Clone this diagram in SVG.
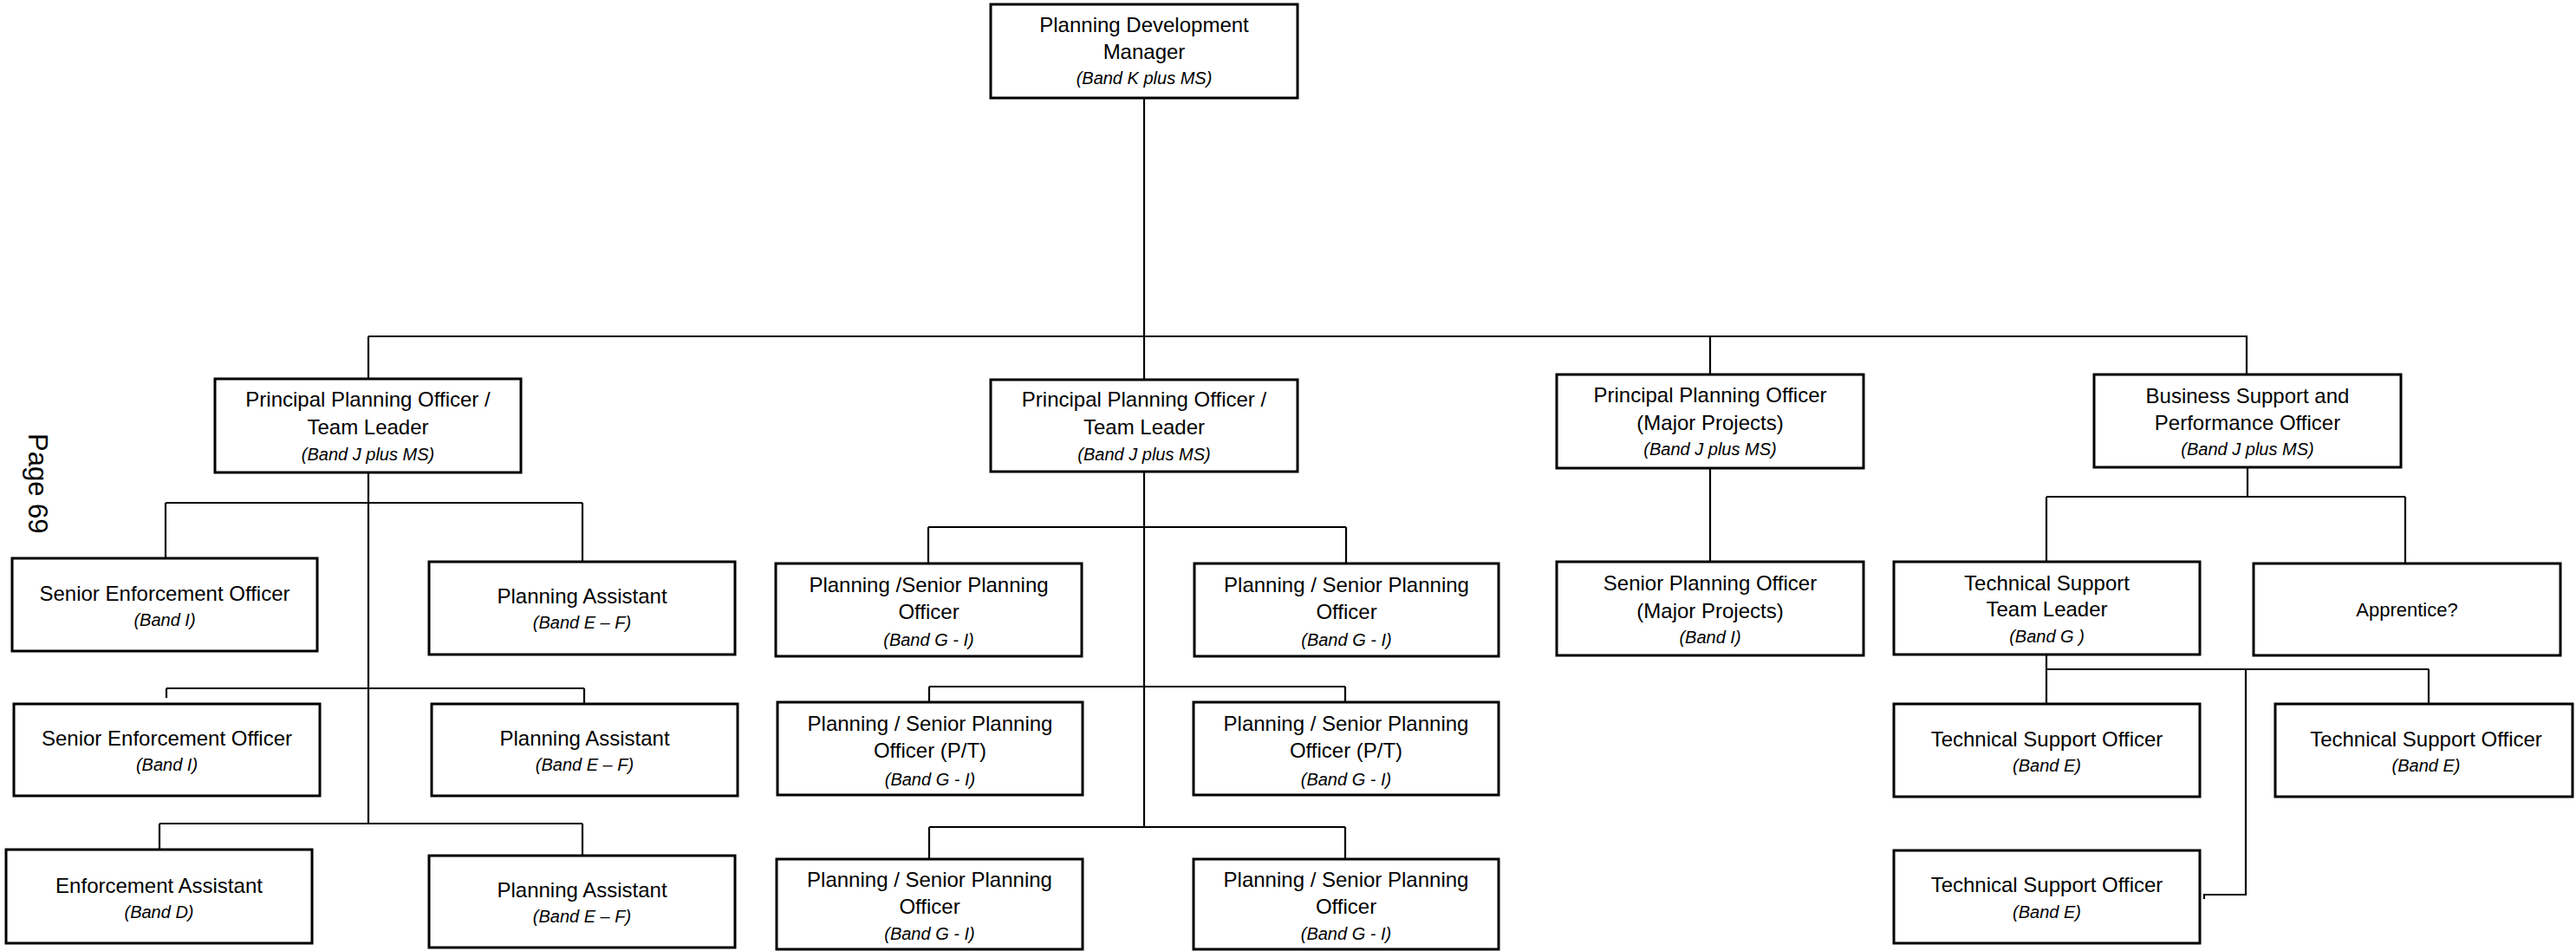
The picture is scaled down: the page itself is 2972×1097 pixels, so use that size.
<svg xmlns="http://www.w3.org/2000/svg" width="2972" height="1097" viewBox="0 0 2972 1097">
<style>
.bg{fill:#ffffff}
.box{fill:#ffffff;stroke:#000000;stroke-width:3}
.conn path{fill:none;stroke:#000000;stroke-width:2.2}
text{font-family:"Liberation Sans",Arial,sans-serif;fill:#000000;text-anchor:middle}
.t{font-size:24px}
.b{font-size:20px;font-style:italic}
.s{font-size:22px}
.pg{font-size:31px;text-anchor:start}
</style>
<rect class="bg" x="0" y="0" width="2972" height="1097"/>
<text class="pg" transform="translate(33,500) rotate(90)">Page 69</text>
<g id="connectors" class="conn">
<path d="M1320,113 V438"/>
<path d="M425,388 H2593"/>
<path d="M425,388 V437"/>
<path d="M1973,388 V432"/>
<path d="M2592,388 V432"/>
<path d="M425,545 V950"/>
<path d="M191,580 H672 M191,580 V644 M672,580 V648"/>
<path d="M192,794 H674 M192,794 V805 M674,794 V812"/>
<path d="M184,950 H672 M184,950 V980 M672,950 V987"/>
<path d="M1320,544 V954"/>
<path d="M1071,608 H1553 M1071,608 V650 M1553,608 V650"/>
<path d="M1072,792 H1552 M1072,792 V810 M1552,792 V810"/>
<path d="M1072,954 H1552 M1072,954 V991 M1552,954 V991"/>
<path d="M1973,540 V648"/>
<path d="M2593,539 V573 M2361,573 H2775 M2361,573 V648 M2775,573 V650"/>
<path d="M2361,755 V812 M2361,772 H2802 M2802,772 V812"/>
<path d="M2591,772 V1032 H2543 V1037"/>
</g>
<g id="n-pdm"><rect class="box" x="1143" y="5" width="354" height="108"/>
<text class="t" x="1320" y="37">Planning Development</text><text class="t" x="1320" y="68">Manager</text><text class="b" x="1320" y="97">(Band K plus MS)</text></g>
<g id="n-ppo1"><rect class="box" x="248" y="437" width="353" height="108"/>
<text class="t" x="424.5" y="469">Principal Planning Officer /</text><text class="t" x="424.5" y="501">Team Leader</text><text class="b" x="424.5" y="531">(Band J plus MS)</text></g>
<g id="n-ppo2"><rect class="box" x="1143" y="438" width="354" height="106"/>
<text class="t" x="1320" y="469">Principal Planning Officer /</text><text class="t" x="1320" y="501">Team Leader</text><text class="b" x="1320" y="531">(Band J plus MS)</text></g>
<g id="n-ppo3"><rect class="box" x="1796" y="432" width="354" height="108"/>
<text class="t" x="1973" y="464">Principal Planning Officer</text><text class="t" x="1973" y="496">(Major Projects)</text><text class="b" x="1973" y="525">(Band J plus MS)</text></g>
<g id="n-bspo"><rect class="box" x="2416" y="432" width="354" height="107"/>
<text class="t" x="2593" y="465">Business Support and</text><text class="t" x="2593" y="496">Performance Officer</text><text class="b" x="2593" y="525">(Band J plus MS)</text></g>
<g id="n-seo1"><rect class="box" x="14" y="644" width="352" height="107"/>
<text class="t" x="190" y="693">Senior Enforcement Officer</text><text class="b" x="190" y="722">(Band I)</text></g>
<g id="n-pa1"><rect class="box" x="495" y="648" width="353" height="107"/>
<text class="t" x="671.5" y="696">Planning Assistant</text><text class="b" x="671.5" y="725">(Band E – F)</text></g>
<g id="n-seo2"><rect class="box" x="16" y="812" width="353" height="106"/>
<text class="t" x="192.5" y="860">Senior Enforcement Officer</text><text class="b" x="192.5" y="889">(Band I)</text></g>
<g id="n-pa2"><rect class="box" x="498" y="812" width="353" height="106"/>
<text class="t" x="674.5" y="860">Planning Assistant</text><text class="b" x="674.5" y="889">(Band E – F)</text></g>
<g id="n-ea"><rect class="box" x="7" y="980" width="353" height="108"/>
<text class="t" x="183.5" y="1030">Enforcement Assistant</text><text class="b" x="183.5" y="1059">(Band D)</text></g>
<g id="n-pa3"><rect class="box" x="495" y="987" width="353" height="106"/>
<text class="t" x="671.5" y="1035">Planning Assistant</text><text class="b" x="671.5" y="1064">(Band E – F)</text></g>
<g id="n-pspo1"><rect class="box" x="895" y="650" width="353" height="107"/>
<text class="t" x="1071.5" y="683">Planning /Senior Planning</text><text class="t" x="1071.5" y="714">Officer</text><text class="b" x="1071.5" y="745">(Band G - I)</text></g>
<g id="n-pspo2"><rect class="box" x="1378" y="650" width="351" height="107"/>
<text class="t" x="1553.5" y="683">Planning / Senior Planning</text><text class="t" x="1553.5" y="714">Officer</text><text class="b" x="1553.5" y="745">(Band G - I)</text></g>
<g id="n-pt1"><rect class="box" x="897" y="810" width="352" height="107"/>
<text class="t" x="1073" y="843">Planning / Senior Planning</text><text class="t" x="1073" y="874">Officer (P/T)</text><text class="b" x="1073" y="906">(Band G - I)</text></g>
<g id="n-pt2"><rect class="box" x="1377" y="810" width="352" height="107"/>
<text class="t" x="1553" y="843">Planning / Senior Planning</text><text class="t" x="1553" y="874">Officer (P/T)</text><text class="b" x="1553" y="906">(Band G - I)</text></g>
<g id="n-pspo3"><rect class="box" x="896" y="991" width="353" height="104"/>
<text class="t" x="1072.5" y="1023">Planning / Senior Planning</text><text class="t" x="1072.5" y="1054">Officer</text><text class="b" x="1072.5" y="1084">(Band G - I)</text></g>
<g id="n-pspo4"><rect class="box" x="1377" y="991" width="352" height="104"/>
<text class="t" x="1553" y="1023">Planning / Senior Planning</text><text class="t" x="1553" y="1054">Officer</text><text class="b" x="1553" y="1084">(Band G - I)</text></g>
<g id="n-spo"><rect class="box" x="1796" y="648" width="354" height="108"/>
<text class="t" x="1973" y="681">Senior Planning Officer</text><text class="t" x="1973" y="713">(Major Projects)</text><text class="b" x="1973" y="742">(Band I)</text></g>
<g id="n-tstl"><rect class="box" x="2185" y="648" width="353" height="107"/>
<text class="t" x="2361.5" y="681">Technical Support</text><text class="t" x="2361.5" y="711">Team Leader</text><text class="b" x="2361.5" y="741">(Band G )</text></g>
<g id="n-app"><rect class="box" x="2600" y="650" width="354" height="106"/>
<text class="s" x="2777" y="711">Apprentice?</text></g>
<g id="n-tso1"><rect class="box" x="2185" y="812" width="353" height="107"/>
<text class="t" x="2361.5" y="861">Technical Support Officer</text><text class="b" x="2361.5" y="890">(Band E)</text></g>
<g id="n-tso2"><rect class="box" x="2625" y="812" width="343" height="107"/>
<text class="t" x="2799" y="861">Technical Support Officer</text><text class="b" x="2799" y="890">(Band E)</text></g>
<g id="n-tso3"><rect class="box" x="2185" y="981" width="353" height="107"/>
<text class="t" x="2361.5" y="1029">Technical Support Officer</text><text class="b" x="2361.5" y="1059">(Band E)</text></g>
</svg>
